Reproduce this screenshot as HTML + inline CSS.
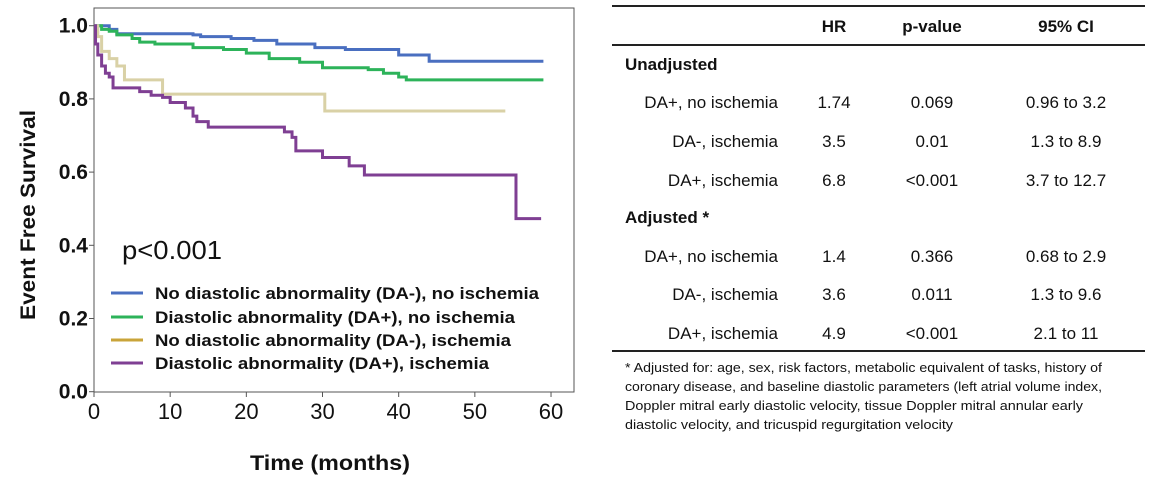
<!DOCTYPE html>
<html><head><meta charset="utf-8"><style>
html,body{margin:0;padding:0;background:#fff;}
svg{display:block;font-family:"Liberation Sans",sans-serif;}
</style></head><body>
<svg id="chart" width="1149" height="492" viewBox="0 0 1149 492">
<rect x="94" y="8" width="480" height="384" fill="#fff" stroke="#555" stroke-width="1"/>
<g id="axes"></g>
<g id="curves"></g>
<text x="122" y="259" font-size="26" fill="#111" textLength="100" lengthAdjust="spacingAndGlyphs">p&lt;0.001</text>
<g id="legend"></g>
<text x="330" y="470" font-size="21" font-weight="bold" text-anchor="middle" fill="#111" textLength="160" lengthAdjust="spacingAndGlyphs">Time (months)</text>
<text transform="translate(35,215) rotate(-90)" font-size="21" font-weight="bold" text-anchor="middle" fill="#111" textLength="210" lengthAdjust="spacingAndGlyphs">Event Free Survival</text>
<g id="table" font-size="17" fill="#111">
<line x1="612" y1="6" x2="1145" y2="6" stroke="#222" stroke-width="2"/>
<line x1="612" y1="45" x2="1145" y2="45" stroke="#222" stroke-width="2"/>
<line x1="612" y1="351" x2="1145" y2="351" stroke="#222" stroke-width="2"/>
<text x="834" y="32" text-anchor="middle" font-weight="bold">HR</text>
<text x="932" y="32" text-anchor="middle" font-weight="bold">p-value</text>
<text x="1066" y="32" text-anchor="middle" font-weight="bold">95% CI</text>
<text x="625" y="70" font-weight="bold">Unadjusted</text>
<text x="625" y="223" font-weight="bold">Adjusted *</text>
<g id="rows"></g>
<g font-size="12.5">
<text x="625" y="372" textLength="477" lengthAdjust="spacingAndGlyphs">* Adjusted for: age, sex, risk factors, metabolic equivalent of tasks, history of</text>
<text x="625" y="391" textLength="477" lengthAdjust="spacingAndGlyphs">coronary disease, and baseline diastolic parameters (left atrial volume index,</text>
<text x="625" y="410" textLength="458" lengthAdjust="spacingAndGlyphs">Doppler  mitral early diastolic velocity, tissue Doppler mitral annular early</text>
<text x="625" y="429" textLength="328" lengthAdjust="spacingAndGlyphs">diastolic velocity, and tricuspid regurgitation velocity</text>
</g>
</g>
</svg>
<script>
const xTicks=[0,10,20,30,40,50,60];
const yTicks=[0.0,0.2,0.4,0.6,0.8,1.0];
const seriesNames=["No diastolic abnormality (DA-), no ischemia","Diastolic abnormality (DA+), no ischemia","No diastolic abnormality (DA-), ischemia","Diastolic abnormality (DA+), ischemia"];
const seriesColors=["#4a6fc0","#2db35a","#d9d1a6","#7f3f93"];
const legendColors=["#4a6fc0","#2db35a","#c9a43a","#7f3f93"];
const blueT=[0,1.5,2,3,13,14,18,21,24,29,33,40,44,59];
const blueS=[1,1,0.99,0.978,0.975,0.97,0.965,0.96,0.95,0.94,0.935,0.92,0.903,0.903];
const greenT=[0,1,2,3,5,6,8,13,17,20,23,27,30,36,38,40,41,59];
const greenS=[1,0.99,0.985,0.975,0.965,0.955,0.95,0.94,0.935,0.925,0.91,0.9,0.885,0.88,0.87,0.86,0.852,0.852];
const tanT=[0,0.5,1,2,3,4,9,30.3,54];
const tanS=[1,0.97,0.93,0.91,0.89,0.852,0.813,0.767,0.767];
const purpleT=[0,0.2,0.5,1,1.5,2,2.5,6,7.5,9,10,12,13,13.5,15,25,26,26.5,30,33.5,35.5,55.4,58.7];
const purpleS=[1,0.95,0.92,0.89,0.87,0.86,0.83,0.82,0.81,0.804,0.79,0.775,0.753,0.738,0.723,0.71,0.695,0.658,0.64,0.617,0.592,0.473,0.473];
const rowLabels=["DA+, no ischemia","DA-, ischemia","DA+, ischemia","DA+, no ischemia","DA-, ischemia","DA+, ischemia"];
const hrVals=["1.74","3.5","6.8","1.4","3.6","4.9"];
const pVals=["0.069","0.01","<0.001","0.366","0.011","<0.001"];
const ciVals=["0.96 to 3.2","1.3 to 8.9","3.7 to 12.7","0.68 to 2.9","1.3 to 9.6","2.1 to 11"];
const rowY=[108,147,186,262,300,339];

const NS="http://www.w3.org/2000/svg";
const X=t=>94+t*7.617, Y=s=>391.7-s*366;
function mk(tag,attrs,parent){const e=document.createElementNS(NS,tag);for(const k in attrs)e.setAttribute(k,attrs[k]);parent.appendChild(e);return e;}
const axes=document.getElementById('axes');
xTicks.forEach(t=>{
 const l=mk('line',{x1:X(t),x2:X(t),y1:392,y2:397,stroke:'#555'},axes);
 
 
 const tx=mk('text',{x:X(t),y:419,'font-size':22,'text-anchor':'middle',fill:'#111'},axes);tx.textContent=t;
 
 
});
yTicks.forEach(v=>{
 const l=mk('line',{x1:89,x2:94,y1:Y(v),y2:Y(v),stroke:'#555'},axes);
 
 
 const tx=mk('text',{x:88,y:Y(v)+7,'font-size':21,'font-weight':'bold','text-anchor':'end',fill:'#111'},axes);tx.textContent=v.toFixed(1);
 
 
});
const curves=document.getElementById('curves');
const all=[[blueT,blueS],[greenT,greenS],[tanT,tanS],[purpleT,purpleS]];
const cn=['curve-da-neg-no-ischemia','curve-da-pos-no-ischemia','curve-da-neg-ischemia','curve-da-pos-ischemia'];
all.forEach(([T,S],i)=>{
 let d=`M${X(T[0])},${Y(S[0])}`;
 for(let k=1;k<T.length;k++){d+=` H${X(T[k])} V${Y(S[k])}`;}
 const p=mk('path',{d:d,fill:'none',stroke:seriesColors[i],'stroke-width':3},curves);
 
 
});
const lg=document.getElementById('legend');
const ly=[293,317,340,363];
const lw=[384,360,356,334];
seriesNames.forEach((n,i)=>{
 const l=mk('line',{x1:111,x2:143,y1:ly[i],y2:ly[i],stroke:legendColors[i],'stroke-width':3},lg);
 
 
 const t=mk('text',{x:155,y:ly[i]+6,'font-size':17,'font-weight':'bold',fill:'#111',textLength:lw[i],lengthAdjust:'spacingAndGlyphs'},lg);t.textContent=n;
 
 
});
const rows=document.getElementById('rows');
rowLabels.forEach((lab,i)=>{
 const cols=[[778,'end',lab],[834,'middle',hrVals[i]],[932,'middle',pVals[i]],[1066,'middle',ciVals[i]]];
 cols.forEach(([x,a,s])=>{
  const t=mk('text',{x:x,y:rowY[i],'text-anchor':a},rows);t.textContent=s;
  
  
 });
});
</script>
</body></html>
